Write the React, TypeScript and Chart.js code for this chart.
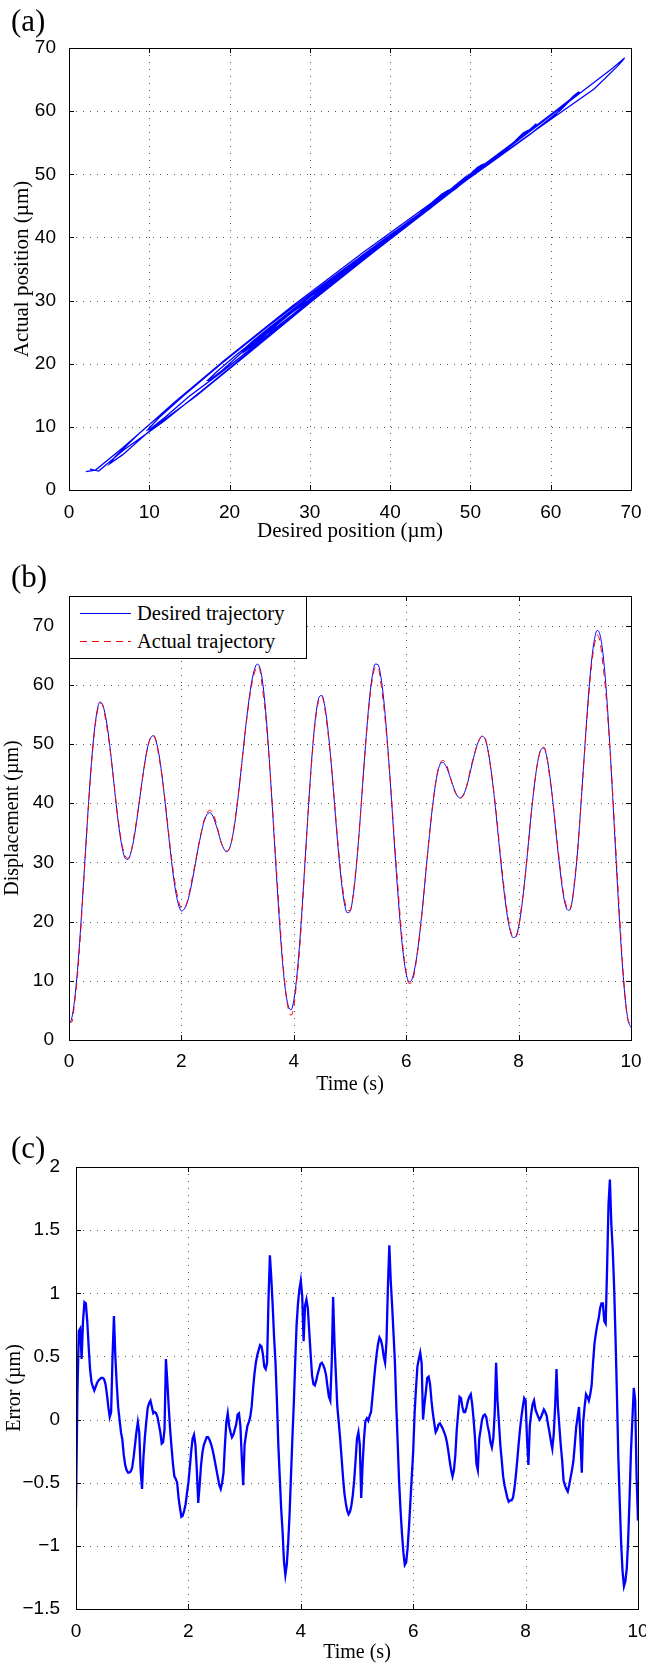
import React, { useEffect, useRef } from "react";
import { Chart, registerables } from "chart.js";

Chart.register(...registerables);

// ---------------- DATA ----------------
const DESIRED_STEP_S = 0.05; // sampling step of the desired trajectory (s)
const ERROR_STEP_S = 0.025; // sampling step of the tracking error (s)

// Desired trajectory (µm), t = 0 .. 10 s every 0.05 s
const desiredTrajectory = [
  2.6, 3.7, 6.8, 11.7, 18.0, 25.3, 32.9, 40.3, 46.9, 52.1,
  55.6, 57.1, 56.6, 54.7, 51.7, 47.7, 43.3, 38.9, 35.1, 32.3,
  30.7, 30.5, 31.6, 33.7, 36.7, 40.2, 43.7, 46.9, 49.5, 51.0,
  51.4, 50.4, 48.3, 45.0, 41.0, 36.6, 32.2, 28.2, 25.0, 22.8,
  21.8, 22.1, 23.1, 24.9, 27.2, 29.8, 32.5, 34.8, 36.8, 38.0,
  38.4, 38.0, 36.8, 35.3, 33.6, 32.4, 31.8, 32.2, 33.9, 36.6,
  40.3, 44.5, 49.0, 53.4, 57.3, 60.5, 62.6, 63.5, 62.8, 60.1,
  55.5, 49.3, 42.1, 34.3, 26.5, 19.3, 13.1, 8.5, 5.8, 5.1,
  6.7, 10.4, 15.8, 22.6, 30.2, 37.8, 45.0, 51.1, 55.5, 57.9,
  58.2, 56.5, 53.1, 48.4, 42.8, 36.8, 31.2, 26.5, 23.1, 21.5,
  21.7, 23.9, 28.0, 33.5, 39.8, 46.5, 52.7, 58.0, 61.7, 63.5,
  63.4, 61.3, 57.5, 52.2, 45.9, 38.9, 31.7, 25.0, 19.0, 14.3,
  11.2, 9.8, 10.2, 12.0, 14.9, 18.8, 23.4, 28.4, 33.3, 37.9,
  41.8, 44.8, 46.5, 46.9, 46.4, 45.3, 43.9, 42.5, 41.4, 40.9,
  41.2, 42.1, 43.7, 45.7, 47.7, 49.5, 50.7, 51.3, 50.9, 49.2,
  46.3, 42.5, 38.1, 33.3, 28.6, 24.4, 20.9, 18.5, 17.3, 17.5,
  19.1, 22.1, 26.1, 30.8, 35.8, 40.5, 44.5, 47.5, 49.1, 49.3,
  47.9, 45.0, 41.1, 36.5, 31.9, 27.7, 24.3, 22.3, 21.9, 23.3,
  26.9, 32.0, 38.5, 45.5, 52.5, 59.0, 64.2, 67.7, 69.2, 68.4,
  65.4, 60.3, 53.4, 45.3, 36.5, 27.7, 19.4, 12.3, 6.7, 3.3,
  2.1,
];

// Tracking error = desired - actual (µm), t = 0 .. 10 s every 0.025 s
const trackingError = [
  -0.70, 0.20, 0.70, 0.72, 0.48, 0.78, 0.93, 0.92, 0.78, 0.58,
  0.40, 0.30, 0.26, 0.23, 0.26, 0.29, 0.31, 0.32, 0.33, 0.33,
  0.32, 0.28, 0.20, 0.10, 0.02, 0.06, 0.50, 0.82, 0.50, 0.28,
  0.10, 0.00, -0.10, -0.16, -0.28, -0.36, -0.40, -0.42, -0.42, -0.41,
  -0.38, -0.30, -0.20, -0.10, -0.02, -0.10, -0.40, -0.55, -0.30, -0.14,
  -0.02, 0.09, 0.13, 0.15, 0.10, 0.05, 0.06, 0.05, 0.02, -0.04,
  -0.10, -0.19, -0.18, -0.08, 0.48, 0.30, 0.10, -0.08, -0.22, -0.35,
  -0.45, -0.47, -0.50, -0.62, -0.70, -0.77, -0.76, -0.72, -0.67, -0.58,
  -0.50, -0.38, -0.25, -0.15, -0.12, -0.20, -0.40, -0.66, -0.52, -0.36,
  -0.26, -0.20, -0.17, -0.14, -0.14, -0.16, -0.19, -0.23, -0.28, -0.34,
  -0.40, -0.46, -0.52, -0.55, -0.50, -0.42, -0.20, -0.02, 0.05, -0.05,
  -0.10, -0.14, -0.12, -0.08, -0.04, 0.04, 0.05, -0.05, -0.30, -0.52,
  -0.20, -0.12, -0.05, -0.02, 0.02, 0.10, 0.24, 0.36, 0.45, 0.51,
  0.55, 0.59, 0.58, 0.52, 0.42, 0.40, 0.45, 0.95, 1.30, 1.12,
  0.90, 0.65, 0.45, 0.15, -0.20, -0.45, -0.70, -0.88, -1.12, -1.23,
  -1.15, -0.98, -0.75, -0.45, -0.15, 0.12, 0.45, 0.75, 0.92, 1.03,
  1.10, 0.98, 0.62, 0.90, 0.95, 0.88, 0.70, 0.52, 0.35, 0.28,
  0.27, 0.31, 0.36, 0.40, 0.44, 0.45, 0.43, 0.40, 0.35, 0.26,
  0.18, 0.15, 0.45, 0.97, 0.60, 0.35, 0.10, -0.02, -0.15, -0.30,
  -0.45, -0.58, -0.66, -0.72, -0.75, -0.73, -0.68, -0.60, -0.48, -0.32,
  -0.15, -0.10, -0.20, -0.62, -0.35, -0.15, -0.01, 0.01, -0.01, 0.03,
  0.06, 0.18, 0.30, 0.42, 0.52, 0.60, 0.65, 0.63, 0.58, 0.50,
  0.45, 0.62, 1.05, 1.38, 1.10, 0.90, 0.68, 0.45, 0.10, -0.20,
  -0.50, -0.72, -0.90, -1.05, -1.15, -1.13, -1.02, -0.85, -0.65, -0.45,
  -0.25, 0.05, 0.25, 0.42, 0.48, 0.53, 0.45, 0.00, 0.12, 0.22,
  0.33, 0.34, 0.28, 0.15, 0.05, -0.03, -0.10, -0.08, -0.04, -0.03,
  -0.05, -0.07, -0.10, -0.13, -0.18, -0.25, -0.33, -0.40, -0.45, -0.40,
  -0.28, -0.08, 0.05, 0.18, 0.17, 0.10, 0.06, 0.06, 0.10, 0.15,
  0.18, 0.20, 0.12, 0.00, -0.15, -0.35, -0.40, -0.15, -0.08, 0.00,
  0.03, 0.04, 0.02, -0.05, -0.10, -0.18, -0.22, -0.15, 0.05, 0.45,
  0.15, -0.02, -0.20, -0.32, -0.45, -0.52, -0.57, -0.62, -0.65, -0.64,
  -0.64, -0.62, -0.55, -0.45, -0.33, -0.20, -0.08, 0.02, 0.10, 0.17,
  0.15, -0.15, -0.36, -0.05, 0.05, 0.12, 0.15, 0.08, 0.05, 0.02,
  0.00, 0.02, 0.05, 0.08, 0.06, 0.03, -0.04, -0.10, -0.17, -0.23,
  -0.12, 0.10, 0.40, 0.10, -0.05, -0.20, -0.32, -0.48, -0.52, -0.55,
  -0.57, -0.52, -0.46, -0.40, -0.33, -0.20, -0.06, 0.02, 0.10, -0.15,
  -0.42, -0.02, 0.10, 0.20, 0.18, 0.15, 0.20, 0.27, 0.45, 0.60,
  0.68, 0.75, 0.80, 0.88, 0.92, 0.92, 0.78, 0.76, 1.20, 1.70,
  1.90, 1.55, 1.35, 1.05, 0.65, 0.20, -0.30, -0.65, -0.98, -1.20,
  -1.32, -1.28, -1.18, -0.95, -0.62, -0.25, 0.00, 0.25, 0.15, -0.45,
  -0.80,
];

const positionTicks = [0, 10, 20, 30, 40, 50, 60, 70];
const timeTicks = [0, 2, 4, 6, 8, 10];
const displacementTicks = [0, 10, 20, 30, 40, 50, 60, 70];
const errorTicks = [-1.5, -1, -0.5, 0, 0.5, 1, 1.5, 2];

const legendLabels = ["Desired trajectory", "Actual trajectory"];

// ---------------- BUILT TABLES ----------------
const errorAtDesiredSamples = desiredTrajectory.map(
  (_, i) => trackingError[Math.round((i * DESIRED_STEP_S) / ERROR_STEP_S)]
);
const desiredPoints = desiredTrajectory.map((y, i) => ({ x: i * DESIRED_STEP_S, y }));
const actualPoints = desiredTrajectory.map((y, i) => ({
  x: i * DESIRED_STEP_S,
  y: y - errorAtDesiredSamples[i],
}));
const hysteresisPoints = desiredTrajectory.map((y, i) => ({
  x: y,
  y: y - errorAtDesiredSamples[i],
}));
const errorPoints = trackingError.map((e, i) => ({ x: i * ERROR_STEP_S, y: e }));

// ---------------- STYLE ----------------
const SANS = "'Liberation Sans', Arial, Helvetica, sans-serif";
const SERIF = "'Liberation Serif', 'Times New Roman', Times, serif";
const W = 646;

const fmtTick = (v: any) => String(v).replace("-", "\u2212");

// MATLAB-like axes: dotted grid under data, black box and inner ticks on top
const matlabAxes = {
  id: "matlabAxes",
  beforeDatasetsDraw(chart: any) {
    const { ctx, chartArea: a } = chart;
    const xs = chart.scales.x;
    const ys = chart.scales.y;
    const L = Math.round(a.left);
    const R = Math.round(a.right);
    const T = Math.round(a.top);
    const B = Math.round(a.bottom);
    ctx.save();
    ctx.strokeStyle = "#555555";
    ctx.lineWidth = 1;
    ctx.setLineDash([1, 6]);
    ctx.beginPath();
    for (const t of xs.ticks) {
      const p = Math.round(xs.getPixelForValue(t.value));
      if (p <= L + 1 || p >= R - 1) continue;
      ctx.moveTo(p + 0.5, B);
      ctx.lineTo(p + 0.5, T);
    }
    for (const t of ys.ticks) {
      const p = Math.round(ys.getPixelForValue(t.value));
      if (p <= T + 1 || p >= B - 1) continue;
      ctx.moveTo(L, p + 0.5);
      ctx.lineTo(R, p + 0.5);
    }
    ctx.stroke();
    ctx.restore();
  },
  afterDatasetsDraw(chart: any) {
    const { ctx, chartArea: a } = chart;
    const xs = chart.scales.x;
    const ys = chart.scales.y;
    const L = Math.round(a.left);
    const R = Math.round(a.right);
    const T = Math.round(a.top);
    const B = Math.round(a.bottom);
    const tl = 5;
    ctx.save();
    ctx.setLineDash([]);
    ctx.strokeStyle = "#000000";
    ctx.lineWidth = 1;
    ctx.beginPath();
    for (const t of xs.ticks) {
      const p = Math.round(xs.getPixelForValue(t.value)) + 0.5;
      ctx.moveTo(p, B);
      ctx.lineTo(p, B - tl);
      ctx.moveTo(p, T);
      ctx.lineTo(p, T + tl);
    }
    for (const t of ys.ticks) {
      const p = Math.round(ys.getPixelForValue(t.value)) + 0.5;
      ctx.moveTo(L, p);
      ctx.lineTo(L + tl, p);
      ctx.moveTo(R, p);
      ctx.lineTo(R - tl, p);
    }
    ctx.stroke();
    ctx.strokeRect(L + 0.5, T + 0.5, R - L, B - T);
    ctx.restore();
  },
};

type Spec = {
  padding: { left: number; right: number; top: number; bottom: number };
  yAxisWidth: number;
  xAxisHeight: number;
  xTickPad: number;
  yTickPad: number;
  titleSize: number;
  xMin: number;
  xMax: number;
  yMin: number;
  yMax: number;
  xTicks: number[];
  yTicks: number[];
  xTitle: string;
  yTitle: string;
};

function buildOptions(s: Spec): any {
  return {
    responsive: false,
    maintainAspectRatio: false,
    animation: false,
    devicePixelRatio: 1,
    events: [],
    layout: { padding: s.padding },
    plugins: { legend: { display: false }, tooltip: { enabled: false } },
    scales: {
      x: {
        type: "linear",
        min: s.xMin,
        max: s.xMax,
        afterBuildTicks: (sc: any) => {
          sc.ticks = s.xTicks.map((v) => ({ value: v }));
        },
        afterFit: (sc: any) => {
          sc.height = s.xAxisHeight;
          sc.paddingLeft = 0;
          sc.paddingRight = 0;
        },
        grid: { display: false },
        border: { display: false },
        ticks: {
          color: "#000",
          font: { family: SANS, size: 19 },
          padding: s.xTickPad,
          maxRotation: 0,
          minRotation: 0,
          autoSkip: false,
          callback: fmtTick,
        },
        title: {
          display: true,
          text: s.xTitle,
          color: "#000",
          font: { family: SERIF, size: s.titleSize },
          padding: 0,
        },
      },
      y: {
        type: "linear",
        min: s.yMin,
        max: s.yMax,
        afterBuildTicks: (sc: any) => {
          sc.ticks = s.yTicks.map((v) => ({ value: v }));
        },
        afterFit: (sc: any) => {
          sc.width = s.yAxisWidth;
          sc.paddingTop = 0;
          sc.paddingBottom = 0;
        },
        grid: { display: false },
        border: { display: false },
        ticks: {
          color: "#000",
          font: { family: SANS, size: 19 },
          padding: s.yTickPad,
          autoSkip: false,
          callback: fmtTick,
        },
        title: {
          display: true,
          text: s.yTitle,
          color: "#000",
          font: { family: SERIF, size: s.titleSize },
          padding: 0,
        },
      },
    },
  };
}

const buildA = (): any => ({
  type: "scatter",
  data: {
    datasets: [
      {
        data: hysteresisPoints,
        showLine: true,
        borderColor: "#0000ff",
        backgroundColor: "#0000ff",
        borderWidth: 1.3,
        pointRadius: 0,
        fill: false,
        tension: 0,
      },
    ],
  },
  options: buildOptions({
    padding: { left: 10, right: 15, top: 48, bottom: 1 },
    yAxisWidth: 59,
    xAxisHeight: 54,
    xTickPad: 3,
    yTickPad: 5,
    titleSize: 21,
    xMin: 0,
    xMax: 70,
    yMin: 0,
    yMax: 70,
    xTicks: positionTicks,
    yTicks: positionTicks,
    xTitle: "Desired position (\u00b5m)",
    yTitle: "Actual position (\u00b5m)",
  }),
  plugins: [matlabAxes],
});

const buildB = (): any => ({
  type: "line",
  data: {
    datasets: [
      {
        label: legendLabels[0],
        data: desiredPoints,
        borderColor: "#0000ff",
        borderWidth: 1,
        pointRadius: 0,
        fill: false,
        cubicInterpolationMode: "monotone",
        order: 2,
      },
      {
        label: legendLabels[1],
        data: actualPoints,
        borderColor: "#ff0000",
        borderWidth: 1,
        borderDash: [7, 5],
        pointRadius: 0,
        fill: false,
        cubicInterpolationMode: "monotone",
        order: 1,
      },
    ],
  },
  options: buildOptions({
    padding: { left: 1, right: 15, top: 51, bottom: 8 },
    yAxisWidth: 68,
    xAxisHeight: 57,
    xTickPad: 2,
    yTickPad: 7,
    titleSize: 20,
    xMin: 0,
    xMax: 10,
    yMin: 0,
    yMax: 75,
    xTicks: timeTicks,
    yTicks: displacementTicks,
    xTitle: "Time (s)",
    yTitle: "Displacement (\u00b5m)",
  }),
  plugins: [matlabAxes],
});

const buildC = (): any => ({
  type: "line",
  data: {
    datasets: [
      {
        data: errorPoints,
        borderColor: "#0000ff",
        borderWidth: 2.3,
        pointRadius: 0,
        fill: false,
        tension: 0,
      },
    ],
  },
  options: buildOptions({
    padding: { left: 3, right: 8, top: 62, bottom: 0 },
    yAxisWidth: 73,
    xAxisHeight: 56,
    xTickPad: 3,
    yTickPad: 8,
    titleSize: 20,
    xMin: 0,
    xMax: 10,
    yMin: -1.5,
    yMax: 2,
    xTicks: timeTicks,
    yTicks: errorTicks,
    xTitle: "Time (s)",
    yTitle: "Error (\u00b5m)",
  }),
  plugins: [matlabAxes],
});

function ChartCanvas({ top, height, build }: { top: number; height: number; build: () => any }) {
  const ref = useRef<HTMLCanvasElement | null>(null);
  useEffect(() => {
    if (!ref.current) return;
    const chart = new Chart(ref.current, build());
    return () => chart.destroy();
  }, [build]);
  return (
    <canvas
      ref={ref}
      width={W}
      height={height}
      style={{ position: "absolute", left: 0, top, width: W, height, display: "block" }}
    />
  );
}

const panelLabel = (text: string, top: number) => (
  <div
    style={{
      position: "absolute",
      left: 11,
      top,
      fontFamily: SERIF,
      fontSize: 31,
      lineHeight: "31px",
      color: "#000",
      whiteSpace: "nowrap",
    }}
  >
    {text}
  </div>
);

export default function App() {
  return (
    <div
      style={{
        position: "absolute",
        left: 0,
        top: 0,
        width: W,
        height: 1665,
        background: "#ffffff",
        overflow: "hidden",
      }}
    >
      <ChartCanvas top={0} height={545} build={buildA} />
      <ChartCanvas top={545} height={560} build={buildB} />
      <ChartCanvas top={1105} height={560} build={buildC} />

      {panelLabel("(a)", 5)}
      {panelLabel("(b)", 561)}
      {panelLabel("(c)", 1132)}

      <svg
        width={238}
        height={63}
        style={{ position: "absolute", left: 69, top: 596, overflow: "visible" }}
      >
        <rect x={0.5} y={0.5} width={237} height={62} fill="#ffffff" stroke="#000000" strokeWidth={1} />
        <line x1={11} y1={17.5} x2={62} y2={17.5} stroke="#0000ff" strokeWidth={1} />
        <text x={68} y={24} fontFamily={SERIF} fontSize={20.5} fill="#000">
          {legendLabels[0]}
        </text>
        <line
          x1={11}
          y1={45.5}
          x2={62}
          y2={45.5}
          stroke="#ff0000"
          strokeWidth={1}
          strokeDasharray="7 5"
        />
        <text x={68} y={52} fontFamily={SERIF} fontSize={20.5} fill="#000">
          {legendLabels[1]}
        </text>
      </svg>
    </div>
  );
}
